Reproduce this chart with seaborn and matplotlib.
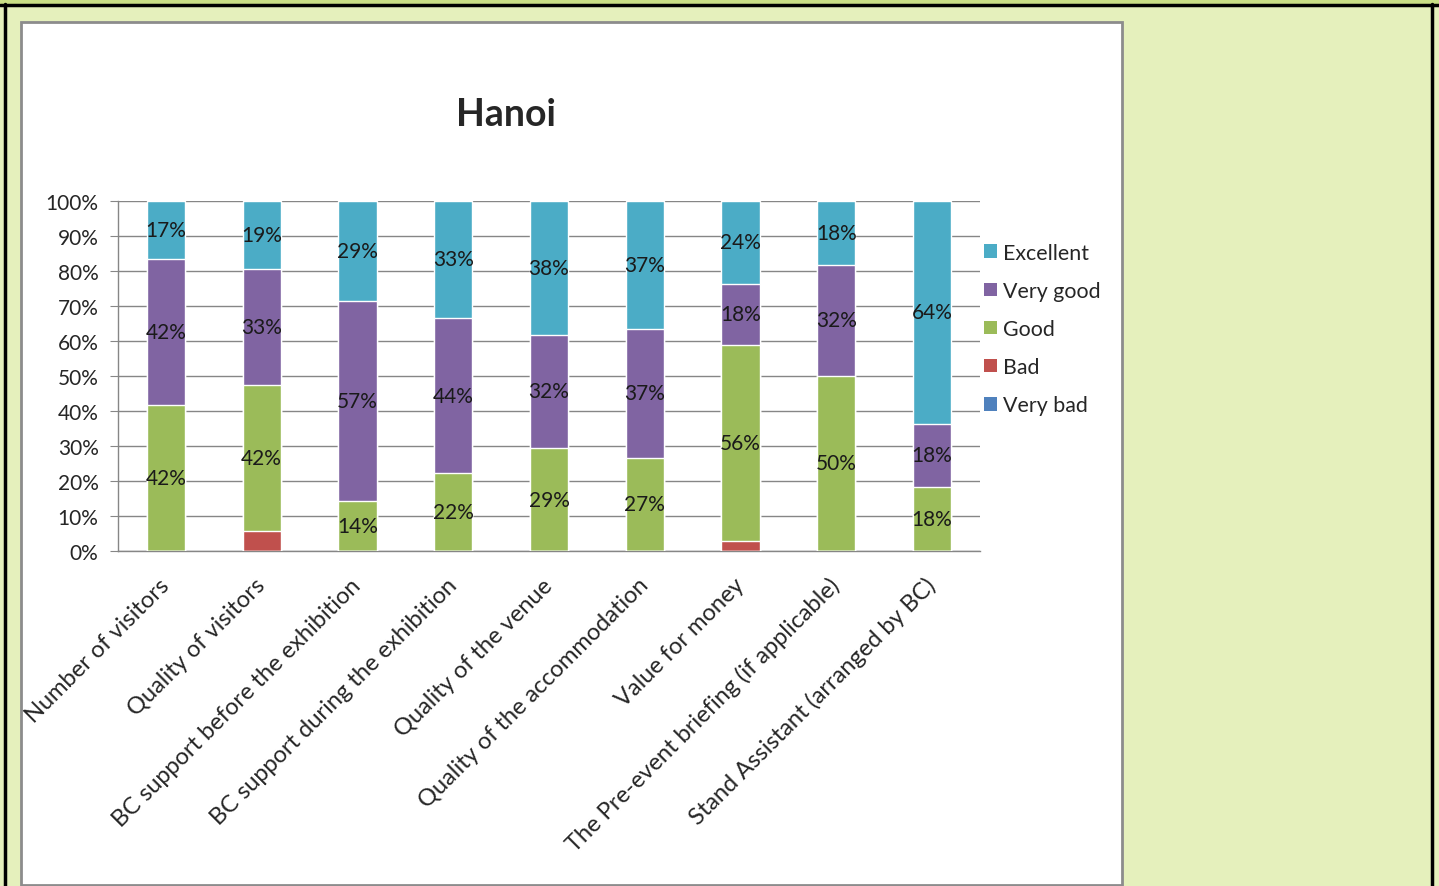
# Hanoi exhibition feedback - 100% stacked bar chart

import matplotlib
matplotlib.use('Agg')
import matplotlib.pyplot as plt
from matplotlib.patches import Rectangle, Patch
from matplotlib.lines import Line2D
import seaborn as sns
import numpy as np
import pandas as pd

CATEGORIES = ['Number of visitors', 'Quality of visitors',
              'BC support before the exhibition', 'BC support during the exhibition',
              'Quality of the venue', 'Quality of the accommodation',
              'Value for money', 'The Pre-event briefing (if applicable)',
              'Stand Assistant (arranged by BC)']

# shares in percent
very_bad  = [0.0, 0.0, 0.0, 0.0, 0.0, 0.0, 0.0, 0.0, 0.0]
bad       = [0.0, 5.6, 0.0, 0.0, 0.0, 0.0, 2.9, 0.0, 0.0]
good      = [41.7, 41.7, 14.3, 22.2, 29.4, 26.6, 55.9, 50.0, 18.2]
very_good = [41.7, 33.3, 57.1, 44.4, 32.4, 36.8, 17.6, 31.8, 18.2]
excellent = [16.6, 19.4, 28.6, 33.4, 38.2, 36.6, 23.6, 18.2, 63.6]

SERIES = ['Very bad', 'Bad', 'Good', 'Very good', 'Excellent']
COLORS = {'Very bad': '#4F81BD', 'Bad': '#C0504D', 'Good': '#9BBB59',
          'Very good': '#8064A2', 'Excellent': '#4BACC6'}
LABELLED = ['Good', 'Very good', 'Excellent']

W, H = 1439, 887

sns.set_style('white')
plt.rcParams['font.family'] = ['Lato', 'DejaVu Sans']

df = pd.DataFrame({'category': CATEGORIES, 'Very bad': very_bad, 'Bad': bad,
                   'Good': good, 'Very good': very_good, 'Excellent': excellent})
cum = df[SERIES].cumsum(axis=1)

fig = plt.figure(figsize=(W / 100, H / 100), dpi=100, facecolor='#E5F0BC')

def px_rect(x0, y0, x1, y1, **kw):
    r = Rectangle((x0 / W, 1 - y1 / H), (x1 - x0) / W, (y1 - y0) / H,
                  transform=fig.transFigure, **kw)
    fig.add_artist(r)

# page decorations
px_rect(0, 0, W, 5, facecolor='#CADF86', edgecolor='none', zorder=0)
fig.add_artist(Line2D([0, 1], [1 - 5.5 / H] * 2, transform=fig.transFigure, color='black', lw=2.5))
fig.add_artist(Line2D([5 / W] * 2, [0, 1 - 5 / H], transform=fig.transFigure, color='black', lw=2.5))
fig.add_artist(Line2D([1432 / W] * 2, [0, 1 - 5 / H], transform=fig.transFigure, color='black', lw=2.5))
px_rect(21, 23, 1122, 886, facecolor='white', edgecolor='#8C8C8C', lw=2, zorder=0)

ax = fig.add_axes([118 / W, 1 - 552 / H, (980 - 118) / W, (552 - 202) / H])
ax.set_facecolor('none')

# back-to-front stacking: draw cumulative totals, largest first
for s in reversed(SERIES):
    sns.barplot(x=df['category'], y=cum[s], color=COLORS[s], width=0.4,
                saturation=1, ax=ax, zorder=3)

for s in LABELLED:
    centers = cum[s] - df[s] / 2
    for i, (c, v) in enumerate(zip(centers, df[s])):
        ax.text(i, c, f'{v:.0f}%', ha='center', va='center',
                fontsize=15, color='#1A1A1A', zorder=5)

ax.set_ylim(0, 100)
ax.set_xlim(-0.5, len(CATEGORIES) - 0.5)
ax.set_yticks(np.arange(0, 101, 10))
ax.set_yticklabels([f'{t}%' for t in range(0, 101, 10)], fontsize=15)
ax.grid(axis='y', color='#868686', lw=1, zorder=0)
ax.set_axisbelow(True)
ax.set_xlabel('')
ax.set_ylabel('')

for side in ['top', 'right']:
    ax.spines[side].set_visible(False)
for side in ['left', 'bottom']:
    ax.spines[side].set_color('#868686')
    ax.spines[side].set_linewidth(1)

ax.set_xticks(range(len(CATEGORIES)))
ax.set_xticklabels(CATEGORIES, rotation=45, ha='right', va='center',
                   rotation_mode='anchor', fontsize=17)
ax.set_xticks(np.arange(-0.5, len(CATEGORIES)), minor=True)
ax.tick_params(axis='x', which='major', length=0, pad=22)
ax.tick_params(axis='x', which='minor', length=6, color='#868686', direction='out')
ax.tick_params(axis='y', length=6, color='#868686', direction='out', pad=8, left=True)

fig.text(506 / W, 1 - 115 / H, 'Hanoi', fontsize=27,
         fontweight='bold', ha='center', va='center')

handles = [Patch(facecolor=COLORS[s], edgecolor='none') for s in reversed(SERIES)]
fig.legend(handles, list(reversed(SERIES)), loc='upper left',
           bbox_to_anchor=(973 / W, 1 - 233 / H), frameon=False,
           fontsize=15.4, handlelength=0.6, handleheight=0.6,
           handletextpad=0.3, labelspacing=0.85, borderpad=0)

fig.savefig('out.png', dpi=100, facecolor=fig.get_facecolor())
